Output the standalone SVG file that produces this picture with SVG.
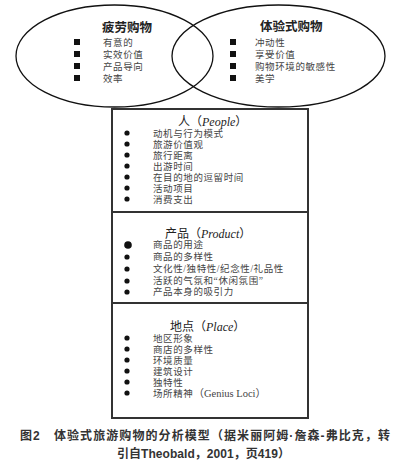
<svg xmlns="http://www.w3.org/2000/svg" width="400" height="468" viewBox="0 0 400 468">
<style>
.ell{fill:none;stroke:#111;stroke-width:1.3}
.box{fill:#fff;stroke:#333;stroke-width:2}
.div{stroke:#333;stroke-width:2}
.cn{font-family:"Liberation Serif","Noto Sans CJK SC",serif;font-size:9.5px;letter-spacing:0.6px;fill:#444}
.ttl{font-family:"Liberation Sans","Noto Sans CJK SC",sans-serif;font-size:12.5px;font-weight:bold;fill:#222}
.bt{font-family:"Liberation Serif","Noto Sans CJK SC",serif;font-size:12px;fill:#222}
.it{font-style:italic}
.lat{font-size:10.5px;letter-spacing:0}
.cap{font-family:"Liberation Sans","Noto Sans CJK SC",sans-serif;font-size:12px;font-weight:bold;fill:#333}
.sq{fill:#111}
.dot{fill:#111}
</style>
<rect width="400" height="468" fill="#fff"/>
<g id="box">
<rect class="box" x="112" y="109" width="196" height="309"/>
</g>
<g id="connectors">
<line class="div" x1="112" y1="212" x2="308" y2="212"/>
<line class="div" x1="112" y1="303" x2="308" y2="303"/>
</g>
<g id="fatigue">
<ellipse class="ell" cx="114.5" cy="56" rx="98.5" ry="51"/>
<text class="ttl" x="102" y="32">疲劳购物</text>
<rect class="sq" x="74" y="39" width="6" height="6"/>
<rect class="sq" x="74" y="51" width="6" height="6"/>
<rect class="sq" x="74" y="63" width="6" height="6"/>
<rect class="sq" x="74" y="75" width="6" height="6"/>
<text class="cn" x="103" y="46">有意的</text>
<text class="cn" x="103" y="58">实效价值</text>
<text class="cn" x="103" y="70">产品导向</text>
<text class="cn" x="103" y="82">效率</text>
</g>
<g id="experience">
<ellipse class="ell" cx="278.5" cy="56" rx="106.5" ry="51"/>
<text class="ttl" x="260" y="31">体验式购物</text>
<rect class="sq" x="230" y="39" width="6" height="6"/>
<rect class="sq" x="230" y="51" width="6" height="6"/>
<rect class="sq" x="230" y="63" width="6" height="6"/>
<rect class="sq" x="230" y="75" width="6" height="6"/>
<text class="cn" x="255" y="46">冲动性</text>
<text class="cn" x="255" y="58">享受价值</text>
<text class="cn" x="255" y="70">购物环境的敏感性</text>
<text class="cn" x="255" y="82">美学</text>
</g>
<g id="people">
<text class="bt" x="178" y="126">人（<tspan class="it">People</tspan>）</text>
<circle class="dot" cx="127" cy="133" r="2.6"/>
<circle class="dot" cx="127" cy="144" r="2.6"/>
<circle class="dot" cx="127" cy="155" r="2.6"/>
<circle class="dot" cx="127" cy="166" r="2.6"/>
<circle class="dot" cx="127" cy="177" r="2.6"/>
<circle class="dot" cx="127" cy="188" r="2.6"/>
<circle class="dot" cx="127" cy="199" r="2.6"/>
<text class="cn" x="153" y="137">动机与行为模式</text>
<text class="cn" x="153" y="148">旅游价值观</text>
<text class="cn" x="153" y="159">旅行距离</text>
<text class="cn" x="153" y="170">出游时间</text>
<text class="cn" x="153" y="181">在目的地的逗留时间</text>
<text class="cn" x="153" y="192">活动项目</text>
<text class="cn" x="153" y="203">消费支出</text>
</g>
<g id="product">
<text class="bt" x="165" y="238">产品（<tspan class="it">Product</tspan>）</text>
<circle class="dot" cx="128" cy="245" r="3.8"/>
<circle class="dot" cx="127" cy="257" r="2.6"/>
<circle class="dot" cx="127" cy="269" r="2.6"/>
<circle class="dot" cx="127" cy="281" r="2.6"/>
<circle class="dot" cx="127" cy="292" r="2.6"/>
<text class="cn" x="153" y="248">商品的用途</text>
<text class="cn" x="153" y="260">商品的多样性</text>
<text class="cn" x="153" y="272" letter-spacing="0">文化性/独特性/纪念性/礼品性</text>
<text class="cn" x="153" y="284">活跃的气氛和“休闲氛围”</text>
<text class="cn" x="153" y="295">产品本身的吸引力</text>
</g>
<g id="place">
<text class="bt" x="170" y="331">地点（<tspan class="it">Place</tspan>）</text>
<circle class="dot" cx="127" cy="338" r="2.6"/>
<circle class="dot" cx="127" cy="349" r="2.6"/>
<circle class="dot" cx="127" cy="360" r="2.6"/>
<circle class="dot" cx="127" cy="371" r="2.6"/>
<circle class="dot" cx="127" cy="382" r="2.6"/>
<circle class="dot" cx="127" cy="393" r="2.6"/>
<text class="cn" x="153" y="342">地区形象</text>
<text class="cn" x="153" y="353">商店的多样性</text>
<text class="cn" x="153" y="364">环境质量</text>
<text class="cn" x="153" y="375">建筑设计</text>
<text class="cn" x="153" y="386">独特性</text>
<text class="cn" x="153" y="397">场所精神<tspan class="lat">（Genius Loci）</tspan></text>
</g>
<g id="caption">
<text class="cap" x="20" y="440" textLength="370" lengthAdjust="spacing">图2　体验式旅游购物的分析模型（据米丽阿姆·詹森-弗比克，转</text>
<text class="cap" x="117" y="458" textLength="173" lengthAdjust="spacing">引自Theobald，2001，页419）</text>
</g>
</svg>
